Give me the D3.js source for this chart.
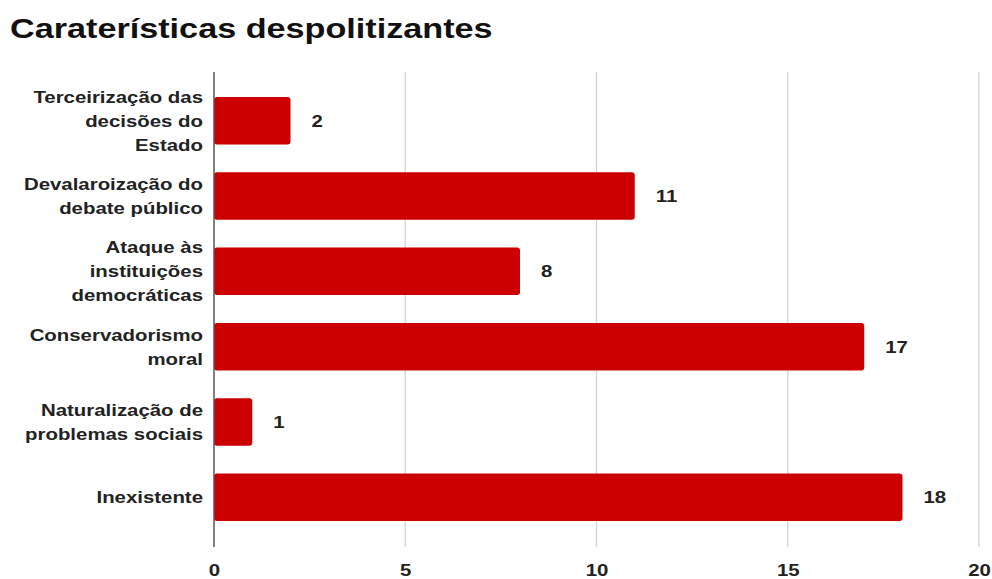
<!DOCTYPE html>
<html>
<head>
<meta charset="utf-8">
<script src="https://cdn.jsdelivr.net/npm/d3@7"></script>
<style>
  html, body { margin: 0; padding: 0; background: #fff; }
  svg { display: block; font-family: "Liberation Sans", Arial, sans-serif; }
</style>
</head>
<body>
<svg id="chart" width="992" height="579"></svg>
<script>
const categories = [
  ["Terceirização das", "decisões do", "Estado"],
  ["Devalaroização do", "debate público"],
  ["Ataque às", "instituições", "democráticas"],
  ["Conservadorismo", "moral"],
  ["Naturalização de", "problemas sociais"],
  ["Inexistente"]
];
const values = [2, 11, 8, 17, 1, 18];
const xTicks = [0, 5, 10, 15, 20];
const title = "Caraterísticas despolitizantes";

// text is set in a slightly widened face
const stretch = 1.2;
const place = (px, py) => `translate(${px},${py}) scale(${stretch},1)`;

const svg = d3.select("#chart");
const plotLeft = 214, plotRight = 979, plotTop = 72, plotBottom = 547;

const x = d3.scaleLinear().domain([0, 20]).range([plotLeft, plotRight]);
const keys = categories.map((c, i) => i);
const y = d3.scaleBand().domain(keys).range([83, 535]).paddingInner(0.37).paddingOuter(0.185);

svg.append("text")
  .attr("transform", place(10, 38))
  .attr("font-size", 28.5).attr("font-weight", "bold").attr("fill", "#111")
  .text(title);

// vertical gridlines
svg.append("g").selectAll("line").data(xTicks.filter(t => t > 0)).join("line")
  .attr("x1", d => x(d)).attr("x2", d => x(d))
  .attr("y1", plotTop).attr("y2", plotBottom)
  .attr("stroke", "#d4d4d4").attr("stroke-width", 1.3);

// bars
svg.append("g").selectAll("rect").data(values).join("rect")
  .attr("x", x(0))
  .attr("y", (d, i) => y(i))
  .attr("width", d => x(d) - x(0))
  .attr("height", y.bandwidth())
  .attr("rx", 3).attr("ry", 3)
  .attr("fill", "#cc0000");

// baseline axis
svg.append("line")
  .attr("x1", x(0)).attr("x2", x(0)).attr("y1", plotTop).attr("y2", plotBottom)
  .attr("stroke", "#555").attr("stroke-width", 1.5);

// value labels
svg.append("g").selectAll("text").data(values).join("text")
  .attr("transform", (d, i) => place(x(d) + 21, y(i) + y.bandwidth() / 2))
  .attr("dy", "0.35em")
  .attr("font-size", 17).attr("font-weight", "bold").attr("fill", "#222")
  .text(d => d);

// category labels
const lineH = 24;
const cat = svg.append("g").selectAll("text").data(categories).join("text")
  .attr("text-anchor", "end")
  .attr("font-size", 17).attr("font-weight", "bold").attr("fill", "#222")
  .attr("transform", (d, i) => place(203, y(i) + y.bandwidth() / 2 - (d.length - 1) * lineH / 2));
cat.selectAll("tspan").data(d => d).join("tspan")
  .attr("x", 0)
  .attr("dy", (d, j) => j === 0 ? "0.35em" : lineH)
  .text(d => d);

// x tick labels
const xAxis = d3.axisBottom(x).tickValues(xTicks).tickSize(0).tickPadding(0);
const gx = svg.append("g").attr("transform", `translate(0,${plotBottom + 17})`).call(xAxis);
gx.select(".domain").remove();
gx.selectAll("text")
  .attr("transform", `scale(${stretch},1)`)
  .attr("x", null)
  .attr("font-size", 17).attr("font-weight", "bold").attr("fill", "#222")
  .attr("font-family", "\"Liberation Sans\", Arial, sans-serif");
</script>
</body>
</html>
